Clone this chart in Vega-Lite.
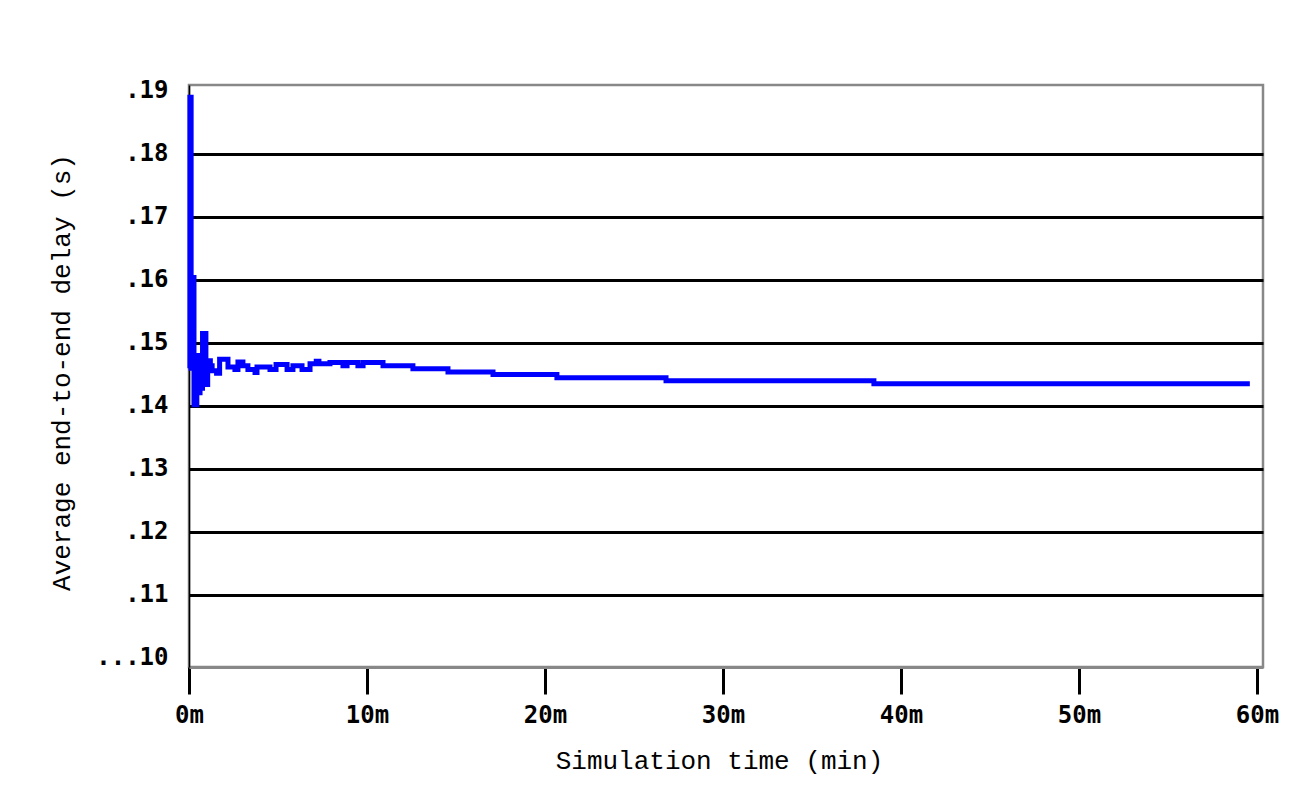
{
  "$schema": "https://vega.github.io/schema/vega-lite/v6.json",
  "autosize": "none",
  "padding": {"left": 189, "top": 85, "right": 43, "bottom": 139},
  "width": 1074,
  "height": 582,
  "background": "white",
  "config": {
    "view": {"stroke": "#888888", "strokeWidth": 2.5},
    "axis": {"labelColor": "black", "titleColor": "black", "titleFontWeight": "normal"}
  },
  "data": {
    "values": [
      {"time_min": 0.00, "delay_s": 0.1460},
      {"time_min": 0.05, "delay_s": 0.1890},
      {"time_min": 0.12, "delay_s": 0.1460},
      {"time_min": 0.18, "delay_s": 0.1604},
      {"time_min": 0.28, "delay_s": 0.1402},
      {"time_min": 0.44, "delay_s": 0.1480},
      {"time_min": 0.50, "delay_s": 0.1421},
      {"time_min": 0.62, "delay_s": 0.1428},
      {"time_min": 0.76, "delay_s": 0.1515},
      {"time_min": 0.95, "delay_s": 0.1434},
      {"time_min": 1.05, "delay_s": 0.1472},
      {"time_min": 1.20, "delay_s": 0.1464},
      {"time_min": 1.30, "delay_s": 0.1456},
      {"time_min": 1.55, "delay_s": 0.1452},
      {"time_min": 1.72, "delay_s": 0.1474},
      {"time_min": 2.19, "delay_s": 0.1462},
      {"time_min": 2.58, "delay_s": 0.1458},
      {"time_min": 2.75, "delay_s": 0.1470},
      {"time_min": 3.03, "delay_s": 0.1464},
      {"time_min": 3.31, "delay_s": 0.1458},
      {"time_min": 3.71, "delay_s": 0.1453},
      {"time_min": 3.82, "delay_s": 0.1462},
      {"time_min": 4.55, "delay_s": 0.1458},
      {"time_min": 4.89, "delay_s": 0.1466},
      {"time_min": 5.51, "delay_s": 0.1458},
      {"time_min": 5.84, "delay_s": 0.1464},
      {"time_min": 6.35, "delay_s": 0.1458},
      {"time_min": 6.80, "delay_s": 0.1467},
      {"time_min": 7.15, "delay_s": 0.1471},
      {"time_min": 7.30, "delay_s": 0.1467},
      {"time_min": 7.92, "delay_s": 0.1469},
      {"time_min": 8.65, "delay_s": 0.1464},
      {"time_min": 8.88, "delay_s": 0.1469},
      {"time_min": 9.49, "delay_s": 0.1464},
      {"time_min": 9.78, "delay_s": 0.1469},
      {"time_min": 10.90, "delay_s": 0.1464},
      {"time_min": 12.58, "delay_s": 0.1459},
      {"time_min": 14.55, "delay_s": 0.1454},
      {"time_min": 17.08, "delay_s": 0.1450},
      {"time_min": 20.67, "delay_s": 0.1445},
      {"time_min": 26.80, "delay_s": 0.1440},
      {"time_min": 38.48, "delay_s": 0.14352},
      {"time_min": 59.60, "delay_s": 0.14352}
    ]
  },
  "mark": {"type": "line", "color": "#0000ff", "strokeWidth": 5, "interpolate": "step-after", "strokeCap": "butt", "strokeJoin": "miter"},
  "encoding": {
    "x": {
      "field": "time_min",
      "type": "quantitative",
      "scale": {"domain": [0, 60.34], "nice": false, "zero": false},
      "axis": {
        "title": "Simulation time (min)",
        "values": [0, 10, 20, 30, 40, 50, 60],
        "labelExpr": "datum.value + 'm'",
        "labelFlush": false,
        "labelOverlap": false,
        "grid": false,
        "domainColor": "#888888",
        "domainWidth": 3,
        "tickColor": "black",
        "tickWidth": 3,
        "tickSize": 27,
        "labelPadding": 9,
        "labelFont": "DejaVu Sans Mono",
        "labelFontSize": 24,
        "labelFontWeight": "bold",
        "titleFont": "Liberation Mono",
        "titleFontSize": 26,
        "titleBaseline": "middle",
        "titleX": 530,
        "titleY": 93
      }
    },
    "y": {
      "field": "delay_s",
      "type": "quantitative",
      "scale": {"domain": [0.09857, 0.19095], "nice": false, "zero": false},
      "axis": {
        "title": "Average end-to-end delay (s)",
        "values": [0.10, 0.11, 0.12, 0.13, 0.14, 0.15, 0.16, 0.17, 0.18, 0.19],
        "labelExpr": "datum.value < 0.105 ? '...10' : replace(format(datum.value, '.2f'), '0.', '.')",
        "labelOverlap": false,
        "labelFlush": false,
        "grid": true,
        "gridColor": "black",
        "gridWidth": 3,
        "gridOpacity": {"condition": {"test": "datum.value < 0.105 || datum.value > 0.185", "value": 0}, "value": 1},
        "ticks": false,
        "tickSize": 0,
        "domainColor": "black",
        "domainWidth": 1.5,
        "labelPadding": 21,
        "labelFont": "DejaVu Sans Mono",
        "labelFontSize": 24,
        "labelFontWeight": "bold",
        "titleFont": "Liberation Mono",
        "titleFontSize": 26,
        "titleAngle": -90,
        "titleBaseline": "middle",
        "titleX": -128,
        "titleY": 287
      }
    }
  }
}
